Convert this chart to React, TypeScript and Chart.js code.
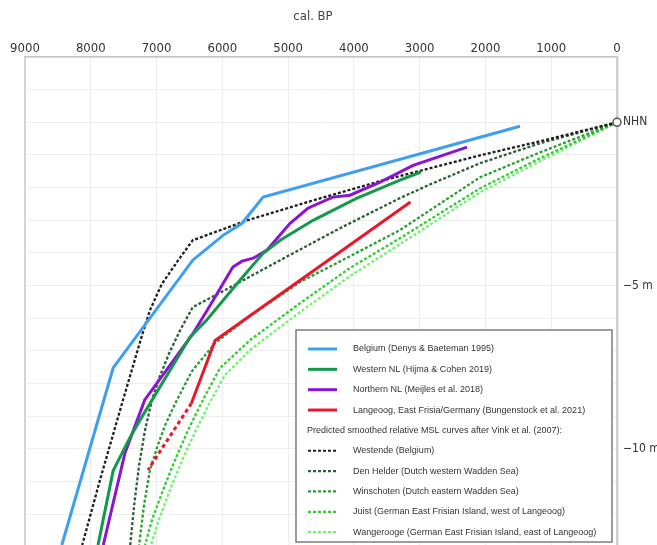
import React, { useEffect, useRef } from "react";
import { Chart, registerables } from "chart.js";

Chart.register(...registerables);

// ---------- data (years cal. BP, metres relative to NHN) ----------
const belgiumYears = [1475, 5380, 5700, 5990, 6450, 7660, 8440];
const belgiumDepth = [-0.12, -2.29, -3.09, -3.46, -4.22, -7.52, -12.94];

const westernNLYears = [2980, 3300, 3960, 4620, 5120, 5380, 5730, 6240, 6490, 7250, 7400, 7660, 7890];
const westernNLDepth = [-1.52, -1.77, -2.33, -3.0, -3.61, -4.01, -4.83, -6.06, -6.57, -9.11, -9.63, -10.67, -12.94];

const northernNLYears = [2280, 2840, 3100, 3600, 4060, 4320, 4700, 4970, 5320, 5530, 5700, 5840, 6230, 6460, 7180, 7480, 7810];
const northernNLDepth = [-0.76, -1.14, -1.32, -1.83, -2.23, -2.29, -2.63, -3.09, -3.91, -4.16, -4.25, -4.43, -5.75, -6.51, -8.5, -10.12, -12.94];

const langeoogYears = [3140, 6110, 6470, 7130];
const langeoogDepth = [-2.44, -6.68, -8.6, -10.64];

const westendeYears = [0, 1170, 2080, 3600, 4620, 5620, 6450, 6670, 6920, 7100, 7220, 7510, 7860, 8130];
const westendeDepth = [0, -0.58, -1.01, -1.8, -2.39, -3.0, -3.61, -4.22, -4.95, -5.75, -6.51, -8.5, -10.95, -12.94];

const denHelderYears = [0, 1170, 2080, 2840, 3300, 4210, 5120, 5880, 6450, 6640, 6800, 6950, 7070, 7175, 7265, 7340, 7400];
const denHelderDepth = [0, -0.64, -1.25, -1.9, -2.32, -3.24, -4.22, -5.05, -5.66, -6.36, -7.03, -7.77, -8.5, -9.42, -10.49, -11.71, -12.94];

const winschotenYears = [0, 1170, 2080, 3300, 4060, 4820, 5580, 6110, 6460, 6690, 6870, 6990, 7100, 7190, 7265];
const winschotenDepth = [0, -0.92, -1.68, -3.3, -4.1, -4.89, -5.93, -6.76, -7.61, -8.5, -9.27, -9.94, -10.64, -11.71, -12.94];

const juistYears = [0, 1170, 2080, 3300, 4060, 4820, 5580, 6035, 6295, 6520, 6720, 6900, 7070, 7175];
const juistDepth = [0, -1.1, -2.02, -3.55, -4.46, -5.54, -6.67, -7.52, -8.5, -9.42, -10.34, -11.25, -12.17, -12.94];

const wangeroogeYears = [0, 1170, 2080, 3300, 4060, 4820, 5580, 5960, 6170, 6400, 6610, 6795, 6965, 7085];
const wangeroogeDepth = [0, -1.19, -2.14, -3.73, -4.71, -5.81, -6.97, -7.74, -8.5, -9.42, -10.34, -11.25, -12.17, -12.94];

const nhnYears = [0];
const nhnDepth = [0];

const yTickValues = [2, 1, 0, -1, -2, -3, -4, -5, -6, -7, -8, -9, -10, -11, -12];
const yTickLabels: Record<string, string> = { "0": "NHN", "-5": "\u22125 m", "-10": "\u221210 m" };

const xTitle = "cal. BP";
const legendHeading = "Predicted smoothed relative MSL curves after Vink et al. (2007):";

const seriesNames = [
  "Belgium (Denys & Baeteman 1995)",
  "Western NL (Hijma & Cohen 2019)",
  "Northern NL (Meijles et al. 2018)",
  "Langeoog, East Frisia/Germany (Bungenstock et al. 2021)",
  "Westende (Belgium)",
  "Den Helder (Dutch western Wadden Sea)",
  "Winschoten (Dutch eastern Wadden Sea)",
  "Juist (German East Frisian Island, west of Langeoog)",
  "Wangerooge (German East Frisian Island, east of Langeoog)",
];

// ---------- styling ----------
const COLORS = {
  belgium: "#3d9ff0",
  western: "#12994a",
  northern: "#8a14d4",
  langeoog: "#e8172b",
  westende: "#1e1e1e",
  denHelder: "#2b5f35",
  winschoten: "#2c9a30",
  juist: "#33cc33",
  wangerooge: "#74f070",
};
const DOT = [3, 2];
const AXIS_FONT = "'DejaVu Sans Condensed', 'Open Sans', sans-serif";
const LEGEND_FONT = "'Liberation Sans', Arial, sans-serif";

const pts = (xs: number[], ys: number[]) => xs.map((x, i) => ({ x, y: ys[i] }));

const legendPlugin = {
  id: "boxLegend",
  afterDraw(chart: any) {
    const ctx = chart.ctx as CanvasRenderingContext2D;
    const ds = chart.data.datasets;
    ctx.save();
    // axis title
    ctx.fillStyle = "#444";
    ctx.font = `13px ${AXIS_FONT}`;
    ctx.textAlign = "center";
    ctx.textBaseline = "middle";
    ctx.fillText(xTitle, 313, 17);

    const L = 296, T = 330, R = 612, B = 542;
    ctx.fillStyle = "#ffffff";
    ctx.fillRect(L, T, R - L, B - T);
    ctx.strokeStyle = "#7c7c7c";
    ctx.lineWidth = 1.5;
    ctx.strokeRect(L, T, R - L, B - T);

    ctx.font = `9px ${LEGEND_FONT}`;
    ctx.textAlign = "left";
    ctx.textBaseline = "middle";
    const rows: any[] = [];
    for (let i = 1; i <= 4; i++) rows.push(ds[i]);
    rows.push(null);
    for (let i = 5; i <= 9; i++) rows.push(ds[i]);
    rows.forEach((d, i) => {
      const y = 349 + i * 20.35;
      if (!d) {
        ctx.fillStyle = "#333";
        ctx.fillText(legendHeading, 307, y);
        return;
      }
      ctx.beginPath();
      ctx.strokeStyle = d.borderColor;
      ctx.lineWidth = d.borderDash ? 2.2 : 3;
      ctx.setLineDash(d.borderDash ? DOT : []);
      ctx.moveTo(308, y);
      ctx.lineTo(337, y);
      ctx.stroke();
      ctx.setLineDash([]);
      ctx.fillStyle = "#333";
      ctx.fillText(d.label, 353, y);
    });
    ctx.restore();
  },
};

export default function App() {
  const ref = useRef<HTMLCanvasElement>(null);
  useEffect(() => {
    if (!ref.current) return;
    const solid = (label: string, color: string, data: any[], extra: any = {}) => ({
      label, data, borderColor: color, backgroundColor: color, borderWidth: 3,
      pointRadius: 0, tension: 0, fill: false, ...extra,
    });
    const dotted = (label: string, color: string, data: any[]) => ({
      label, data, borderColor: color, backgroundColor: color, borderWidth: 2.3,
      borderDash: DOT, pointRadius: 0, tension: 0, fill: false,
    });
    const chart = new Chart(ref.current, {
      type: "line",
      data: {
        datasets: [
          {
            label: "NHN", data: pts(nhnYears, nhnDepth), showLine: false,
            pointRadius: 4, pointBorderWidth: 1.5, pointBorderColor: "#555",
            pointBackgroundColor: "#ffffff", borderColor: "#555", clip: false,
          } as any,
          solid(seriesNames[0], COLORS.belgium, pts(belgiumYears, belgiumDepth)),
          solid(seriesNames[1], COLORS.western, pts(westernNLYears, westernNLDepth)),
          solid(seriesNames[2], COLORS.northern, pts(northernNLYears, northernNLDepth)),
          solid(seriesNames[3], COLORS.langeoog, pts(langeoogYears, langeoogDepth), {
            segment: { borderDash: (c: any) => (c.p0DataIndex >= 2 ? [4, 3] : undefined) },
          }),
          dotted(seriesNames[4], COLORS.westende, pts(westendeYears, westendeDepth)),
          dotted(seriesNames[5], COLORS.denHelder, pts(denHelderYears, denHelderDepth)),
          dotted(seriesNames[6], COLORS.winschoten, pts(winschotenYears, winschotenDepth)),
          dotted(seriesNames[7], COLORS.juist, pts(juistYears, juistDepth)),
          dotted(seriesNames[8], COLORS.wangerooge, pts(wangeroogeYears, wangeroogeDepth)),
        ],
      },
      options: {
        responsive: false,
        devicePixelRatio: 1,
        animation: false,
        layout: { autoPadding: false, padding: { left: 25, right: 0, top: 0, bottom: 0 } },
        plugins: { legend: { display: false }, tooltip: { enabled: false }, title: { display: false } },
        scales: {
          x: {
            type: "linear",
            position: "top",
            reverse: true,
            min: 0,
            max: 9000,
            afterFit: (s: any) => {
              s.height = 57;
              s.paddingLeft = 0;
              s.paddingRight = 0;
            },
            ticks: {
              stepSize: 1000,
              padding: 1,
              color: "#333",
              font: { family: AXIS_FONT, size: 13 },
              maxRotation: 0,
              autoSkip: false,
              callback: (v: any) => String(v),
            },
            grid: {
              drawTicks: false,
              color: (c: any) => (c.tick && c.tick.value === 9000 ? "#d4d4d4" : "#ededed"),
              lineWidth: (c: any) => (c.tick && c.tick.value === 9000 ? 2 : 1),
            },
            border: { display: true, color: "#c4c4c4", width: 1.5 },
          },
          y: {
            type: "linear",
            position: "right",
            min: -12.94,
            max: 2,
            afterFit: (s: any) => {
              s.width = 40;
              s.paddingTop = 0;
              s.paddingBottom = 0;
            },
            afterBuildTicks: (s: any) => { s.ticks = yTickValues.map((v) => ({ value: v })); },
            ticks: {
              padding: 6,
              color: "#333",
              font: { family: AXIS_FONT, size: 12 },
              callback: (v: any) => yTickLabels[String(v)] ?? "",
            },
            grid: { drawTicks: false, color: "#ededed", lineWidth: 1 },
            border: { display: true, color: "#cfcfcf", width: 2.5 },
          },
        },
      },
      plugins: [legendPlugin],
    } as any);
    return () => chart.destroy();
  }, []);

  return (
    <div style={{ position: "absolute", left: 0, top: 0, width: 657, height: 545, background: "#fff" }}>
      <canvas ref={ref} width={657} height={545} style={{ display: "block" }} />
    </div>
  );
}
